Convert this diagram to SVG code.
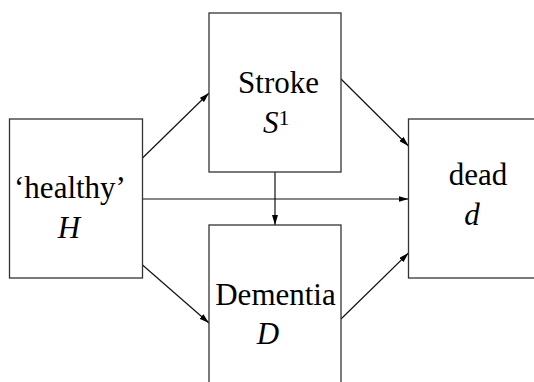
<svg xmlns="http://www.w3.org/2000/svg" width="534" height="382" viewBox="0 0 534 382">
<style>
.box{fill:#fff;stroke:#333;stroke-width:1.3}
text{font-family:'Liberation Serif',Tinos,'Times New Roman','Nimbus Roman','DejaVu Serif',serif;font-size:31px;fill:#000}
.it{font-style:italic}
.edge{stroke:#111;stroke-width:1.2;fill:none;marker-end:url(#ah)}
</style>
<defs>
<marker id="ah" viewBox="0 0 10 6" refX="10" refY="3" markerWidth="10" markerHeight="6" markerUnits="userSpaceOnUse" orient="auto">
<path d="M0,0 L10,3 L0,6 Z" fill="#000"/>
</marker>
</defs>
<rect width="534" height="382" fill="#fff"/>
<g id="connectors">
<line class="edge" x1="142.5" y1="158" x2="209" y2="93"/>
<line class="edge" x1="341" y1="79" x2="408.5" y2="146"/>
<line class="edge" x1="142.5" y1="199" x2="408.5" y2="199"/>
<line class="edge" x1="275" y1="172" x2="275" y2="225"/>
<line class="edge" x1="142.5" y1="265" x2="209" y2="323"/>
<line class="edge" x1="341" y1="319" x2="408.5" y2="253"/>
</g>
<g id="node-healthy">
<rect class="box" x="9.5" y="119" width="133" height="159"/>
<text x="70" y="198" text-anchor="middle">‘healthy’</text>
<text class="it" x="69" y="238" text-anchor="middle">H</text>
</g>
<g id="node-stroke">
<rect class="box" x="209" y="13" width="132" height="159"/>
<text x="278.5" y="93" text-anchor="middle">Stroke</text>
<text x="263" y="133"><tspan class="it">S</tspan><tspan font-size="22" dy="-8">1</tspan></text>
</g>
<g id="node-dementia">
<rect class="box" x="209" y="225" width="132" height="170"/>
<text x="275.5" y="305" text-anchor="middle">Dementia</text>
<text class="it" x="268" y="344" text-anchor="middle">D</text>
</g>
<g id="node-dead">
<rect class="box" x="408.5" y="119" width="133" height="159"/>
<text x="478" y="185" text-anchor="middle">dead</text>
<text class="it" x="472" y="225" text-anchor="middle">d</text>
</g>
</svg>
